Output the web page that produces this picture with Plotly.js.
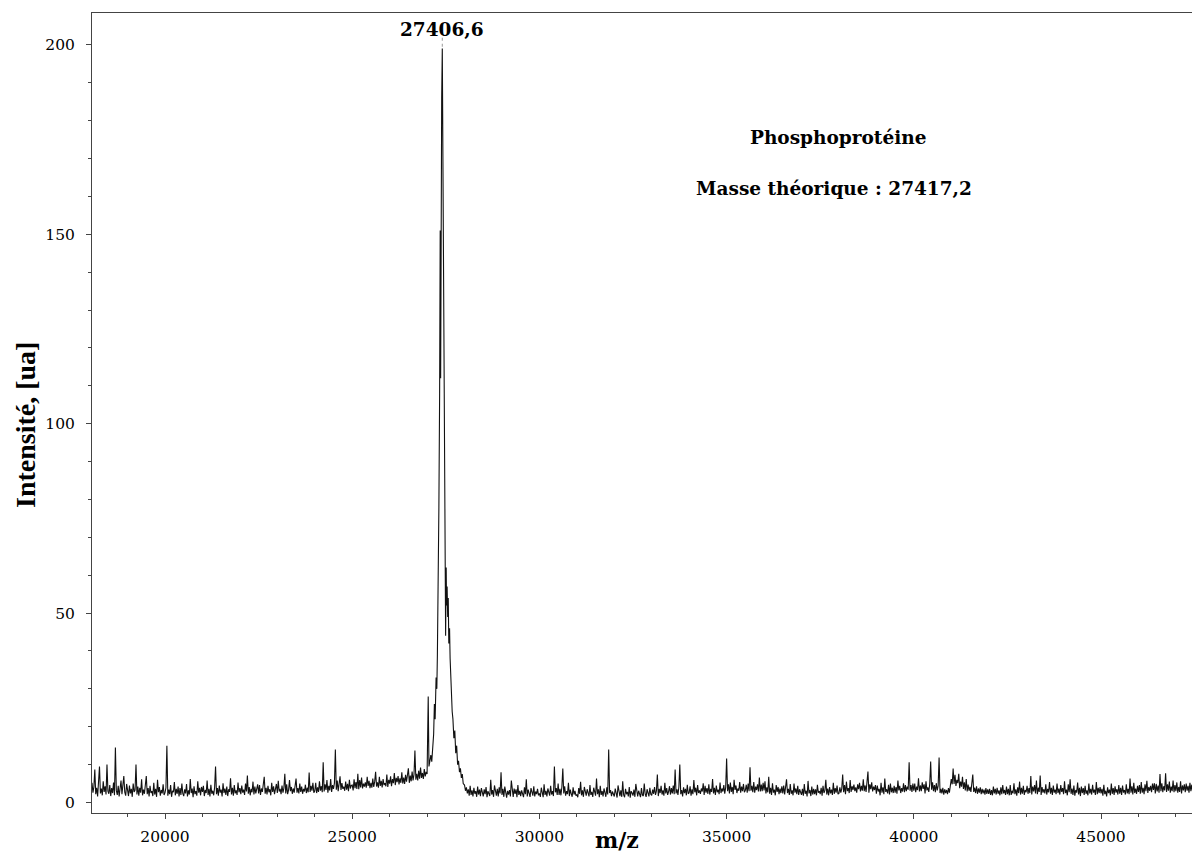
<!DOCTYPE html>
<html>
<head>
<meta charset="utf-8">
<script src="https://cdn.plot.ly/plotly-3.0.1.min.js"></script>
<style>
  html, body { margin: 0; padding: 0; background: #ffffff; }
  #chart { width: 1192px; height: 856px; }
</style>
</head>
<body>
<div id="chart"></div>
<script>
// ---------- DATA ----------
// Background left of the peak: m/z 18000 .. 26975, one sample every 25 (one row = 500 m/z)
const leftStartMz = 18000;
const sampleStepMz = 25;
const leftIntensity = [
  3.4,1.8,5.2,2.6,4.1,8.7,2.2,3.9,1.6,4.8,9.5,2.4,3.7,1.9,5.6,2.8,4.3,2.1,10.0,3.0,
  2.3,4.6,1.7,3.8,2.5,5.3,1.9,14.5,3.2,2.0,4.4,1.6,3.5,5.8,2.2,4.0,7.0,2.7,1.8,4.9,
  3.1,1.7,4.5,2.4,3.6,1.5,5.0,2.8,3.3,10.0,2.1,4.2,1.8,3.9,2.6,6.1,1.9,3.4,2.3,4.7,
  7.0,2.2,3.8,1.6,4.4,2.5,3.0,1.7,5.2,2.1,3.6,1.5,6.0,2.7,4.1,1.8,3.3,2.4,4.8,2.0,
  2.6,3.9,15.0,1.8,3.4,2.2,4.6,1.5,3.1,2.7,5.4,1.9,3.6,2.3,4.2,1.6,3.8,2.0,5.0,2.4,
  1.7,3.5,2.4,4.9,1.6,3.2,2.1,6.2,2.5,3.7,1.4,4.3,2.2,3.0,1.8,5.6,2.6,3.9,1.9,4.1,
  2.8,4.4,1.7,3.3,2.5,5.8,2.0,3.6,1.6,4.7,2.3,3.1,1.9,4.0,9.5,2.2,3.8,1.8,4.5,2.6,
  3.4,1.6,5.1,2.5,3.7,2.0,4.2,1.7,3.5,2.8,6.4,2.1,3.9,1.8,4.6,2.4,3.2,2.0,5.3,2.7,
  3.8,2.2,4.5,2.6,3.4,2.0,5.0,2.9,7.1,2.3,4.1,1.9,3.6,2.7,5.5,2.1,4.2,2.4,3.3,4.8,
  2.4,4.6,2.0,3.7,2.8,5.2,6.8,2.3,3.9,2.1,4.4,2.7,3.5,1.9,5.2,2.8,4.3,2.2,3.6,4.9,
  2.5,5.7,2.9,3.6,2.2,4.5,2.6,3.8,7.6,2.4,4.8,2.2,3.3,5.9,3.0,4.1,2.3,3.7,2.6,5.0,
  6.3,2.6,3.8,2.4,5.0,2.8,4.2,2.3,3.6,2.9,4.7,2.5,3.9,2.7,7.9,2.8,4.4,3.1,5.2,2.6,
  3.0,5.2,2.5,4.0,2.8,5.6,3.1,4.3,2.7,10.6,2.9,4.8,3.3,5.9,2.6,4.4,3.2,6.2,2.8,4.6,
  3.6,5.1,14.0,3.4,5.8,3.0,4.7,6.9,3.3,5.1,3.6,4.2,3.1,5.5,3.4,4.9,3.0,6.0,3.7,4.5,
  4.6,3.2,6.1,3.8,5.4,3.6,7.6,3.5,5.9,4.0,6.6,3.7,5.0,4.2,5.3,3.9,6.8,4.4,5.7,3.8,
  5.2,3.9,6.3,4.1,5.5,8.1,4.2,5.3,3.9,6.8,4.4,5.7,4.0,6.2,4.6,5.1,4.3,7.4,4.1,6.0,
  5.0,6.9,4.3,6.2,5.1,7.8,4.6,6.5,5.4,7.0,4.8,6.4,5.2,8.0,5.0,6.6,4.9,7.3,5.5,6.8,
  9.0,5.2,7.1,5.6,8.2,5.8,7.4,13.7,6.0,7.6,5.8,8.4,6.3,9.2,6.5,7.8,6.2,8.8,6.9,8.1
];

const peakMz = [
  27000, 27030, 27050, 27075, 27100, 27125, 27150, 27175, 27195, 27215,
  27240, 27260, 27275, 27290, 27300, 27315, 27335, 27350, 27362, 27375,
  27390, 27406, 27420, 27435, 27450, 27465, 27480, 27495, 27510, 27520,
  27535, 27550, 27565, 27580, 27600, 27615, 27630, 27650, 27670, 27690,
  27715, 27740, 27765, 27790, 27815, 27840, 27865, 27890, 27915, 27940, 27965
];
const peakIntensity = [
  7.5, 28, 9.5, 11, 12.5, 10.8, 15, 18, 26, 22,
  33, 30, 39, 66, 48, 78, 108, 151, 112, 168,
  186, 199, 172, 130, 98, 76, 63, 44, 62, 52,
  57, 49, 54, 42, 46, 38, 33, 29, 24, 22,
  17, 19, 13, 15, 10, 11, 8, 9, 6.5, 7.5, 5
];

// Background right of the peak: m/z 28000 .. 47475, one sample every 25
const rightStartMz = 28000;
const rightIntensity = [
  4.6,3.1,4.0,2.4,3.5,1.8,4.4,2.0,3.2,1.6,3.9,2.3,3.0,1.5,4.2,2.1,3.4,1.7,3.8,2.2,
  1.6,3.5,2.2,4.1,1.4,3.0,2.5,1.7,6.0,2.1,3.3,1.5,4.5,2.3,1.8,3.6,1.6,4.0,2.4,8.0,
  2.0,3.6,1.5,4.2,2.4,1.3,3.1,2.1,3.3,1.6,5.8,2.2,1.5,3.7,2.3,3.5,1.4,4.6,2.0,3.1,
  1.7,3.2,2.5,1.4,4.0,2.2,6.1,1.6,3.4,2.0,1.5,3.8,2.4,1.8,4.3,1.6,2.9,2.2,3.6,1.9,
  2.4,1.5,3.9,2.2,1.4,4.8,2.0,3.1,1.6,3.7,2.5,1.8,4.4,2.1,3.0,1.7,9.5,2.7,3.8,2.0,
  5.0,2.0,3.6,1.9,4.1,9.0,2.4,4.3,1.8,3.0,2.2,5.2,1.7,3.4,2.3,1.5,4.0,2.1,3.1,1.8,
  2.1,1.4,3.8,2.3,5.5,1.9,3.2,1.5,4.1,2.6,1.8,3.5,2.2,1.6,4.6,2.0,2.8,1.5,3.9,2.2,
  1.8,6.3,2.2,3.5,1.4,4.4,2.0,3.0,1.6,3.7,2.4,1.5,4.0,2.1,14.0,2.5,3.3,1.7,2.9,2.0,
  1.6,3.7,2.1,1.3,4.5,2.4,1.7,3.2,1.5,5.6,2.0,1.4,3.6,2.2,2.8,1.6,4.1,1.3,3.0,2.5,
  1.8,3.4,1.5,4.9,2.2,1.6,3.1,2.4,1.4,3.8,2.0,1.7,5.0,2.3,1.5,3.5,2.1,1.6,3.9,2.2,
  1.9,3.4,2.3,4.1,2.0,3.0,7.4,1.7,3.6,2.5,4.4,2.1,3.2,1.8,5.2,2.4,3.8,2.0,2.9,4.3,
  2.1,3.8,2.4,4.5,2.2,8.7,2.4,3.5,2.0,4.1,10.0,2.2,3.3,1.6,4.0,2.5,3.6,1.9,4.7,2.3,
  2.6,4.3,1.8,3.5,2.2,5.9,2.7,3.9,1.9,4.6,2.5,3.2,2.3,3.7,2.9,5.1,2.0,4.4,2.6,3.8,
  2.3,4.8,2.1,3.6,2.8,6.2,2.4,3.9,2.0,4.5,2.7,3.4,2.2,5.3,2.5,3.7,2.9,4.6,2.3,4.0,
  11.6,3.0,4.8,2.4,5.3,2.8,4.1,2.2,6.0,3.3,4.5,2.5,3.7,3.1,5.4,2.6,4.2,3.0,4.9,2.7,
  3.2,4.7,2.6,5.0,3.0,9.3,3.1,4.4,2.7,5.4,2.6,4.2,3.3,4.8,2.9,6.6,2.9,4.7,3.0,5.2,
  3.2,5.6,2.4,4.0,2.7,6.8,2.3,3.9,2.0,5.1,2.6,3.4,1.9,4.6,2.8,4.1,2.2,3.7,2.5,4.3,
  2.4,4.5,2.1,3.8,6.1,2.5,3.6,2.0,4.9,2.3,3.2,1.9,5.0,2.6,3.7,2.2,4.4,2.0,3.5,2.7,
  2.0,3.6,1.8,4.9,2.3,3.1,1.6,5.7,2.4,3.3,1.7,4.2,2.1,3.6,2.2,3.5,1.9,4.7,2.6,3.0,
  2.2,3.9,1.8,4.4,2.5,3.2,6.0,2.1,3.7,1.9,4.1,2.4,3.4,2.0,5.2,2.3,3.8,2.6,4.5,2.2,
  2.4,4.0,2.6,3.6,7.4,2.7,4.6,2.2,5.5,3.0,3.8,2.5,5.9,2.8,4.3,3.3,4.7,3.0,4.0,2.6,
  4.8,3.5,5.2,2.9,4.4,3.1,6.1,3.0,4.5,2.8,5.0,8.2,2.6,4.8,3.5,5.3,2.9,4.2,3.3,4.6,
  2.3,4.5,2.9,3.6,1.9,5.2,2.6,4.0,2.2,6.3,2.8,3.5,2.4,4.7,2.1,5.0,2.7,3.9,2.5,4.4,
  2.6,4.1,2.3,5.8,3.2,4.4,2.5,3.8,2.9,5.1,2.7,4.6,3.0,4.2,3.4,10.6,3.1,4.6,2.8,5.0,
  3.1,5.0,2.7,4.2,3.3,6.4,2.9,4.5,3.0,5.3,3.6,4.8,2.4,5.6,3.2,4.0,2.8,4.9,10.8,3.4,
  5.3,3.0,4.6,2.7,5.1,3.2,4.4,11.9,2.5,3.6,2.4,3.9,2.1,3.5,2.5,3.3,2.2,3.8,2.6,4.2,
  6.2,4.8,9.0,4.9,7.3,4.4,6.0,5.1,7.6,3.8,5.5,4.2,6.8,3.6,5.3,3.2,6.2,2.9,4.7,3.1,
  4.1,2.8,5.0,7.4,2.8,3.9,2.5,4.3,2.3,3.7,2.6,4.0,2.2,3.6,2.4,3.4,2.1,3.8,2.3,3.5,
  2.3,3.6,2.0,3.3,1.9,4.2,2.4,3.6,2.1,3.9,2.3,3.2,1.9,4.0,2.2,4.6,2.4,3.3,2.0,4.2,
  2.2,3.6,1.9,4.6,2.0,3.1,2.4,5.1,2.2,3.5,1.8,4.0,2.5,5.5,2.1,3.9,2.3,4.4,2.0,3.3,
  2.7,4.4,2.3,3.8,2.5,7.0,2.1,4.2,2.9,4.6,2.4,5.8,2.2,3.9,2.8,7.1,2.0,4.1,2.6,3.5,
  2.4,4.8,2.1,3.6,2.7,5.4,2.3,3.9,2.0,4.5,2.6,3.4,2.2,5.0,2.5,3.7,2.1,4.6,2.8,3.8,
  2.2,5.6,2.5,3.4,1.9,4.8,2.7,6.1,2.3,3.7,2.0,4.5,1.8,3.3,2.6,5.3,2.1,3.9,1.7,4.2,
  2.5,3.8,2.0,4.4,2.3,3.2,1.9,5.0,2.4,3.6,2.1,4.7,2.6,3.4,2.0,5.4,2.2,3.9,2.5,4.1,
  2.4,3.6,1.8,4.7,2.2,3.1,1.6,4.0,2.5,3.4,1.9,5.0,2.3,3.8,2.0,4.3,2.6,3.5,2.1,4.6,
  2.3,3.9,2.0,4.5,2.6,3.3,2.1,4.8,2.4,3.6,2.2,6.3,2.6,4.3,2.1,5.2,2.5,3.7,2.3,4.4,
  2.8,4.6,2.3,5.4,2.6,3.9,2.2,4.8,3.0,5.7,2.5,4.1,3.1,4.4,2.7,5.0,3.3,5.1,2.4,4.9,
  2.9,4.5,2.6,7.5,3.0,5.1,2.7,4.3,3.2,7.7,2.8,4.8,3.1,5.5,2.6,4.2,3.0,5.8,2.7,4.6,
  3.0,5.3,2.6,4.1,2.8,5.6,2.4,4.5,3.2,4.8,2.7,5.0,3.1,4.4,2.6,5.2,3.0,4.7,2.8,4.9
];

// Labels
const peakLabel = "27406,6";
const peakLabelMz = 27406;
const infoLines = ["Phosphoprotéine", "Masse théorique : 27417,2"];
const xTitle = "m/z";
const yTitle = "Intensité, [ua]";

// ---------- BUILD SERIES ----------
const mz = [];
const inten = [];
leftIntensity.forEach((v, i) => { mz.push(leftStartMz + i * sampleStepMz); inten.push(v); });
peakMz.forEach((m, i) => { mz.push(m); inten.push(peakIntensity[i]); });
rightIntensity.forEach((v, i) => { mz.push(rightStartMz + i * sampleStepMz); inten.push(v); });

const serif = "DejaVu Serif, Liberation Serif, serif";
const axisColor = "#444444";

const trace = {
  type: "scatter",
  mode: "lines",
  x: mz,
  y: inten,
  line: { color: "#111111", width: 1.1 },
  hoverinfo: "x+y"
};

const layout = {
  width: 1192,
  height: 856,
  margin: { l: 92, r: 0, t: 13, b: 43 },
  paper_bgcolor: "#ffffff",
  plot_bgcolor: "#ffffff",
  showlegend: false,
  font: { family: serif, color: "#000000", size: 15 },
  xaxis: {
    range: [18050, 47430],
    showgrid: false,
    zeroline: false,
    showline: true,
    linecolor: axisColor,
    linewidth: 1,
    mirror: true,
    ticks: "outside",
    ticklen: 5,
    tickwidth: 1,
    tickcolor: axisColor,
    tick0: 0,
    dtick: 5000,
    tickformat: "d",
    ticklabelstandoff: 4,
    tickfont: { family: serif, size: 15.5, color: "#000000" },
    minor: { dtick: 1000, tick0: 0, ticks: "outside", ticklen: 3, tickcolor: axisColor, showgrid: false }
  },
  yaxis: {
    range: [-2.77, 208.4],
    showgrid: false,
    zeroline: false,
    showline: true,
    linecolor: axisColor,
    linewidth: 1,
    mirror: false,
    ticks: "outside",
    ticklen: 5,
    tickwidth: 1,
    tickcolor: axisColor,
    tick0: 0,
    dtick: 50,
    ticklabelstandoff: 8,
    tickfont: { family: serif, size: 15.5, color: "#000000" },
    minor: { dtick: 10, tick0: 0, ticks: "outside", ticklen: 3, tickcolor: axisColor, showgrid: false }
  },
  shapes: [
    {
      type: "line", xref: "x", yref: "y",
      x0: peakLabelMz, x1: peakLabelMz, y0: 199.5, y1: 202.3,
      line: { color: "#999999", width: 1, dash: "dot" }
    }
  ],
  annotations: [
    {
      text: "<b>" + peakLabel + "</b>",
      xref: "x", yref: "paper",
      x: peakLabelMz, y: 0.979,
      xanchor: "center", yanchor: "middle",
      showarrow: false,
      font: { family: serif, size: 18.5, color: "#000000" }
    },
    {
      text: "<b>" + infoLines[0] + "</b>",
      xref: "paper", yref: "paper",
      x: (838 - 92) / 1100, y: (813 - 137) / 800,
      xanchor: "center", yanchor: "middle",
      showarrow: false,
      font: { family: serif, size: 18.5, color: "#000000" }
    },
    {
      text: "<b>" + infoLines[1] + "</b>",
      xref: "paper", yref: "paper",
      x: (834 - 92) / 1100, y: (813 - 189) / 800,
      xanchor: "center", yanchor: "middle",
      showarrow: false,
      font: { family: serif, size: 18.5, color: "#000000" }
    },
    {
      text: "<b>" + xTitle + "</b>",
      xref: "paper", yref: "paper",
      x: (617 - 92) / 1100, y: (813 - 855) / 800,
      xanchor: "center", yanchor: "bottom",
      showarrow: false,
      font: { family: serif, size: 22, color: "#000000" }
    },
    {
      text: "<b>" + yTitle + "</b>",
      xref: "paper", yref: "paper",
      x: (25 - 92) / 1100, y: (813 - 425) / 800,
      xanchor: "center", yanchor: "middle",
      textangle: -90,
      showarrow: false,
      font: { family: "Liberation Serif, serif", size: 28, color: "#000000" }
    }
  ]
};

Plotly.newPlot("chart", [trace], layout, { displayModeBar: false, staticPlot: true });
</script>
</body>
</html>
